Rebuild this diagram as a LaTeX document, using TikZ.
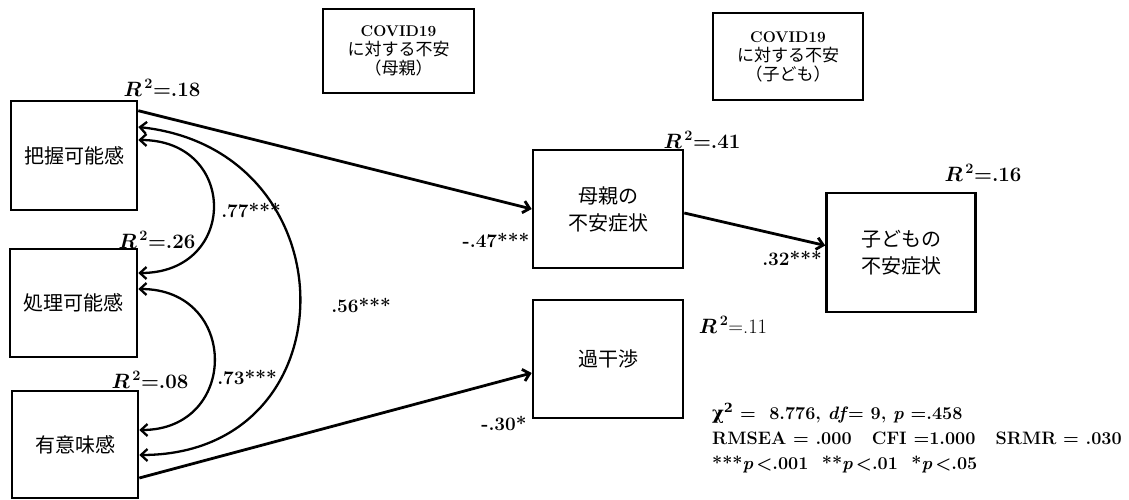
\documentclass[tikz,border=0pt]{standalone}
\usepackage{amsmath}
\usepackage{fontspec}
\usetikzlibrary{arrows.meta,calc}
\newfontfamily\jp{Noto Sans CJK JP}
\newfontfamily\dvs{DejaVu Serif}
\newcommand\rsq[1]{{\boldmath$R^{\,2}$}\textbf{=#1}}
\begin{document}
\begin{tikzpicture}[x=1pt,y=-1pt,
  box/.style={draw,line width=2.6pt,inner sep=0pt,align=center,font=\jp\fontsize{20}{27}\selectfont},
  covbox/.style={draw,line width=2.6pt,inner sep=0pt,align=center,font=\jp\fontsize{17}{19}\selectfont},
  lbl/.style={font=\bfseries\fontsize{19}{21}\selectfont,inner sep=0pt},
  rlbl/.style={font=\fontsize{20.5}{22}\selectfont,inner sep=0pt},
  patharrow/.style={line width=2.8pt,-{Straight Barb[length=6.5pt,width=12pt]}},
  corr/.style={line width=2.3pt,{Straight Barb[length=6.5pt,width=12pt]}-{Straight Barb[length=6.5pt,width=12pt]}}
]
\useasboundingbox (0,0) rectangle (1129,500);

% boxes
\node[box,minimum width=126pt,minimum height=109pt] (haaku) at (74,155.5) {把握可能感};
\node[box,minimum width=127pt,minimum height=108pt] (shori) at (73.5,303) {処理可能感};
\node[box,minimum width=126pt,minimum height=107pt] (yuui) at (75,444.5) {有意味感};
\node[covbox,minimum width=151pt,minimum height=84pt] (covm) at (398.5,51) {{\rmfamily\bfseries\fontsize{15.5}{19}\selectfont COVID19}\\に対する不安\\（母親）};
\node[covbox,minimum width=150pt,minimum height=87pt] (covc) at (788,56.5) {{\rmfamily\bfseries\fontsize{15.5}{19}\selectfont COVID19}\\に対する不安\\（子ども）};
\node[box,minimum width=150pt,minimum height=118pt] (hahaan) at (608,209) {母親の\\不安症状};
\node[box,minimum width=149pt,minimum height=119pt] (koan) at (901,252.5) {子どもの\\不安症状};
\node[box,minimum width=150pt,minimum height=118pt] (kakan) at (608,359) {過干渉};

% R squared labels
\node[rlbl] (r18) at (162,88) {\rsq{.18}};
\node[rlbl] (r26) at (157,240) {\rsq{.26}};
\node[rlbl] (r08) at (150,380) {\rsq{.08}};
\node[rlbl] (r41) at (702,140) {\rsq{.41}};
\node[rlbl] (r16) at (983,173) {\rsq{.16}};
\node[rlbl] (r11) at (733,325) {{\boldmath$R^{\,2}$}=.11};

% paths
\draw[patharrow] ($(haaku.north east)+(0,11)$) -- (hahaan.west);
\draw[patharrow] ($(hahaan.east)+(0,4)$) -- ($(koan.west)+(0,-7)$);
\draw[patharrow] ($(yuui.east)+(0,33.5)$) -- ($(kakan.west)+(0,14)$);

% correlations
\draw[corr] ($(haaku.east)+(0,-15.5)$) .. controls +(100,0) and +(100,0) .. ($(shori.east)+(0,-30)$);
\draw[corr] ($(shori.east)+(0,-14)$) .. controls +(101,0) and +(100,0) .. ($(yuui.east)+(0,-14.5)$);
\draw[corr] ($(haaku.east)+(0,-28.5)$) .. controls +(215,23) and +(214,0) .. ($(yuui.east)+(0,10.5)$);

% coefficient labels
\node[lbl] (c77) at (251,210) {.77***};
\node[lbl] (c73) at (247,377) {.73***};
\node[lbl] (c56) at (361,305) {.56***};
\node[lbl] (c47) at (496,240) {-.47***};
\node[lbl] (c30) at (504,423) {-.30*};
\node[lbl] (c32) at (792,258) {.32***};

% fit statistics
\node[anchor=west,align=left,inner sep=0pt,font=\bfseries\fontsize{18}{25}\selectfont] (fit) at (712,438)
 {{\dvs\bfseries χ\textsuperscript{2}} =\ \ 8.776, \textit{df}= 9, \textit{p} =.458\\
  RMSEA = .000\ \ \ CFI =1.000\ \ \ SRMR = .030\\
  ***\textit{p}\,<.001\ \ **\textit{p}\,<.01\ \ *\textit{p}\,<.05};
\end{tikzpicture}
\end{document}
